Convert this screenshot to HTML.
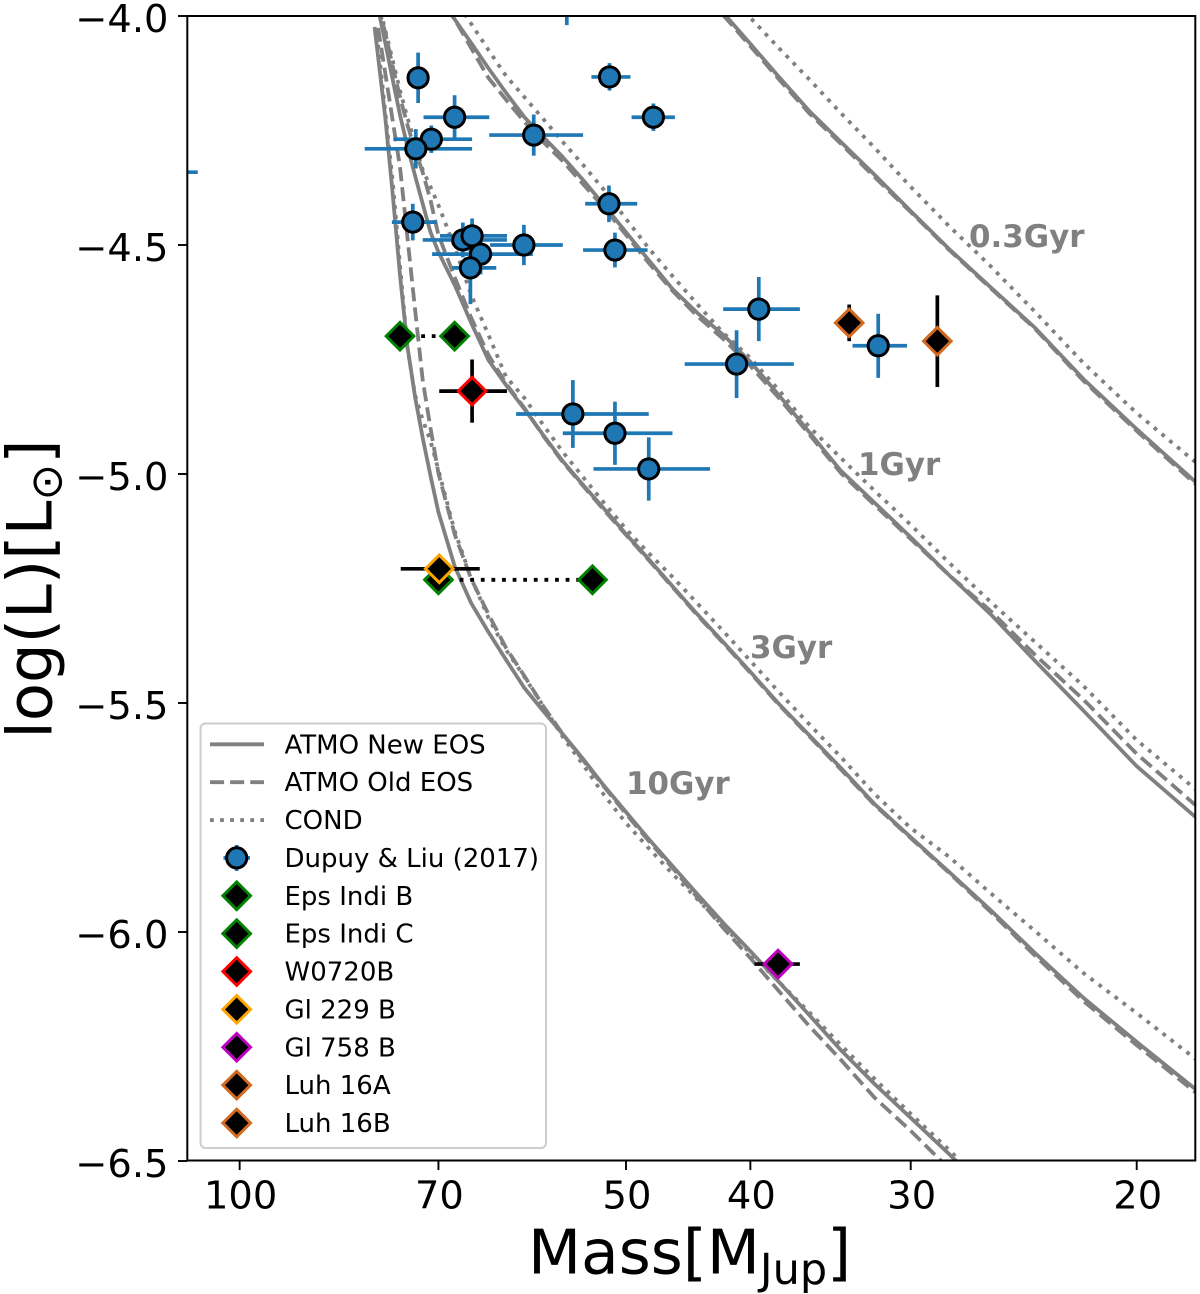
<!DOCTYPE html>
<html lang="en">
<head>
<meta charset="utf-8">
<title>Mass-luminosity diagram</title>
<style>
  html, body { margin: 0; padding: 0; background: #fff; }
  svg { display: block; font-family: "DejaVu Sans", "Liberation Sans", sans-serif; }
</style>
</head>
<body>
<svg id="chart" xmlns="http://www.w3.org/2000/svg" width="1200" height="1294" viewBox="0 0 1200 1294">
  <defs>
    <clipPath id="plot-clip"><rect x="187.3" y="16" width="1008" height="1144.5"></rect></clipPath>
  </defs>
  <rect x="0" y="0" width="1200" height="1294" fill="#ffffff"></rect>
  <g id="curves" clip-path="url(#plot-clip)"></g>
  <g id="points" clip-path="url(#plot-clip)"></g>
  <g id="annotations" fill="#808080" font-weight="bold" font-size="30.9">
    <text x="969" y="247">0.3Gyr</text>
    <text x="858" y="475">1Gyr</text>
    <text x="750" y="658">3Gyr</text>
    <text x="626" y="794">10Gyr</text>
  </g>
  <rect x="187.3" y="16" width="1008" height="1144.5" fill="none" stroke="#000" stroke-width="2"></rect>
  <g id="x-axis"></g>
  <g id="y-axis"></g>
  <text x="528" y="1273.5" font-size="61.5" fill="#000">Mass[M<tspan dy="10.5" font-size="43">Jup</tspan><tspan dy="-10.5">]</tspan></text>
  <text transform="translate(51.7 738.6) rotate(-90)" font-size="62.5" fill="#000">log(L)[L<tspan dy="10" font-size="43.75">⊙</tspan><tspan dy="-10">]</tspan></text>
  <g id="legend"></g>
</svg>
<script>
// ---- axis tick values ----
const xTickMasses = [100, 70, 50, 40, 30, 20];
const xTickLabels = ['100', '70', '50', '40', '30', '20'];
const yTickValues = [-4.0, -4.5, -5.0, -5.5, -6.0, -6.5];
const yTickLabels = ['\u22124.0', '\u22124.5', '\u22125.0', '\u22125.5', '\u22126.0', '\u22126.5'];

// ---- 0.3 Gyr isochrones ----
const mass03Gyr = [42,40,38,36,34,32,30,28,26,24,22,20,18];
const logL03GyrNew = [-3.993,-4.061,-4.133,-4.207,-4.275,-4.347,-4.426,-4.509,-4.592,-4.681,-4.793,-4.902,-5.017];
const logL03GyrOld = [-3.998,-4.066,-4.138,-4.212,-4.279,-4.352,-4.428,-4.511,-4.594,-4.683,-4.797,-4.906,-5.022];
const logL03GyrCond = [-3.943,-4.004,-4.070,-4.138,-4.212,-4.288,-4.373,-4.459,-4.546,-4.646,-4.758,-4.867,-4.974];

// ---- 1 Gyr isochrones ----
const mass1Gyr = [69,68,66,64,62,60,58,56,54,52,50,48,46,44,42,40,38,36,34,32,30,28,26,24,22,20,18];
const logL1GyrNew = [-3.983,-4.007,-4.059,-4.114,-4.168,-4.221,-4.264,-4.308,-4.358,-4.413,-4.472,-4.533,-4.596,-4.648,-4.696,-4.755,-4.828,-4.908,-4.993,-5.063,-5.138,-5.221,-5.306,-5.408,-5.517,-5.638,-5.749];
const logL1GyrOld = [-3.978,-4.007,-4.070,-4.135,-4.183,-4.231,-4.275,-4.317,-4.367,-4.419,-4.478,-4.539,-4.600,-4.655,-4.705,-4.764,-4.834,-4.913,-4.998,-5.068,-5.142,-5.221,-5.299,-5.395,-5.493,-5.611,-5.723];
const logL1GyrCond = [-3.943,-3.963,-4.017,-4.074,-4.131,-4.177,-4.225,-4.275,-4.325,-4.380,-4.443,-4.507,-4.568,-4.629,-4.692,-4.747,-4.817,-4.897,-4.965,-5.037,-5.111,-5.194,-5.279,-5.367,-5.463,-5.581,-5.688];

// ---- 3 Gyr isochrones ----
const mass3Gyr = [78,77,76,75,74,73,72,71,70,68,66,64,62,60,58,56,54,52,50,48,46,44,42,40,38,36,34,32,30,28,26,24,22,20,18];
const logL3GyrNew = [-3.983,-4.059,-4.138,-4.216,-4.286,-4.349,-4.410,-4.472,-4.515,-4.587,-4.670,-4.751,-4.806,-4.858,-4.915,-4.972,-5.024,-5.076,-5.131,-5.186,-5.245,-5.306,-5.367,-5.432,-5.502,-5.570,-5.642,-5.721,-5.793,-5.869,-5.952,-6.046,-6.144,-6.240,-6.343];
const logL3GyrOld = [-3.978,-4.037,-4.109,-4.177,-4.238,-4.293,-4.341,-4.402,-4.478,-4.570,-4.659,-4.740,-4.803,-4.856,-4.917,-4.974,-5.026,-5.079,-5.133,-5.188,-5.247,-5.308,-5.369,-5.434,-5.504,-5.572,-5.645,-5.723,-5.795,-5.871,-5.956,-6.052,-6.151,-6.247,-6.350];
const logL3GyrCond = [-3.969,-4.031,-4.096,-4.162,-4.223,-4.277,-4.336,-4.373,-4.413,-4.504,-4.609,-4.696,-4.788,-4.834,-4.893,-4.952,-5.007,-5.063,-5.120,-5.173,-5.225,-5.282,-5.343,-5.408,-5.476,-5.546,-5.618,-5.699,-5.773,-5.836,-5.915,-5.998,-6.090,-6.177,-6.277];

// ---- 10 Gyr isochrones ----
const mass10GyrNew = [78.5,77,76,75,74,73,72,71,70,68,66,64,62,60,58,56,54,52,50,48,46,44,42,40,38,36,34,32,30,28,27];
const logL10GyrNew = [-4.024,-4.222,-4.386,-4.566,-4.723,-4.832,-4.921,-5.004,-5.083,-5.201,-5.282,-5.345,-5.406,-5.467,-5.518,-5.568,-5.622,-5.681,-5.738,-5.797,-5.856,-5.917,-5.980,-6.042,-6.109,-6.181,-6.258,-6.332,-6.406,-6.485,-6.529];
const mass10GyrOld = [78,77,76,75,74,73,72,71,70,68,66,64,62,60,58,56,54,52,50,48,46,44,42,40,38,36,34,32,30,28];
const logL10GyrOld = [-4.026,-4.125,-4.227,-4.330,-4.485,-4.642,-4.795,-4.900,-4.998,-5.131,-5.229,-5.306,-5.380,-5.441,-5.507,-5.568,-5.625,-5.683,-5.742,-5.801,-5.860,-5.924,-5.991,-6.057,-6.129,-6.205,-6.279,-6.362,-6.434,-6.517];
const mass10GyrCond = [78,77,76,75,74,73,72,71,70,68,66,64,62,60,58,56,54,52,50,48,46,44,42,40,38,36,34,32,30,28,27];
const logL10GyrCond = [-4.063,-4.210,-4.358,-4.544,-4.725,-4.828,-4.882,-4.928,-4.991,-5.124,-5.227,-5.314,-5.384,-5.443,-5.507,-5.574,-5.635,-5.701,-5.762,-5.817,-5.873,-5.928,-5.987,-6.046,-6.109,-6.175,-6.247,-6.321,-6.397,-6.476,-6.520];

// ---- Dupuy & Liu (2017) ----
const dupuyMass = [72.6,51.5,47.6,68.0,59.0,70.9,72.9,51.55,73.3,67.0,65.9,64.9,66.1,60.05,51.0,39.4,41.0,31.8,55.0,51.0,48.0,55.6,130];
const dupuyMassMax = [73.2,53.2,49.5,71.9,63.9,75.9,79.9,53.8,76.1,72.0,69.8,70.8,68.3,63.8,54.0,42.0,45.0,33.3,60.9,56.0,53.0,58,150];
const dupuyMassMin = [72.0,49.6,45.8,63.9,54.0,65.9,65.9,49.0,70.2,61.9,61.9,59.1,63.1,56.0,48.1,36.6,37.0,30.2,48.0,46.0,43.0,53,107.8];
const dupuyLogL = [-4.135,-4.133,-4.221,-4.221,-4.260,-4.269,-4.290,-4.410,-4.450,-4.489,-4.480,-4.520,-4.550,-4.500,-4.511,-4.640,-4.760,-4.720,-4.869,-4.911,-4.989,-3.95,-4.341];
const dupuyLogLErr = [0.055,0.03,0.03,0.048,0.045,0.03,0.043,0.04,0.04,0.038,0.038,0.044,0.079,0.044,0.038,0.07,0.074,0.07,0.074,0.069,0.069,0.07,0.05];

// ---- Eps Indi (each with two mass estimates joined by a dotted line) ----
const epsIndiBMass = [75, 68];
const epsIndiBLogL = [-4.699, -4.699];
const epsIndiCMass = [70, 53.1];
const epsIndiCLogL = [-5.231, -5.231];

// ---- Benchmarks ----
const benchmarkNames = ['W0720B', 'Gl 229 B', 'Gl 758 B', 'Luh 16A', 'Luh 16B'];
const benchmarkMass = [65.9, 69.9, 38.06, 33.5, 28.6];
const benchmarkMassMax = [69.9, 74.9, 39.7, 33.5, 28.6];
const benchmarkMassMin = [61.9, 65.0, 36.6, 33.5, 28.6];
const benchmarkLogL = [-4.819, -5.207, -6.070, -4.670, -4.710];
const benchmarkLogLErr = [0.069, 0, 0, 0.04, 0.1];
const benchmarkEdge = ['#ff0000', '#ffa500', '#bf00bf', '#d2691e', '#d2691e'];

// ---- Legend labels ----
const legendLabels = ['ATMO New EOS', 'ATMO Old EOS', 'COND', 'Dupuy & Liu (2017)', 'Eps Indi B', 'Eps Indi C', 'W0720B', 'Gl 229 B', 'Gl 758 B', 'Luh 16A', 'Luh 16B'];

// ---- Scales ----
const SVGNS = 'http://www.w3.org/2000/svg';
function xScale(m) { return 1136.7 - 1283.4 * Math.log10(m / 20); }
function yScale(l) { return 16 + 458 * (-4 - l); }

function mk(tag, attrs, parent) {
  const el = document.createElementNS(SVGNS, tag);
  for (const k in attrs) el.setAttribute(k, attrs[k]);
  parent.appendChild(el);
  return el;
}

const GRAY = '#808080';
const LW = 3.8;
const STYLE = {
  new:  { dash: null },
  old:  { dash: (3.7 * LW) + ' ' + (1.6 * LW) },
  cond: { dash: (1.0 * LW) + ' ' + (1.65 * LW) }
};

const curvesG = document.getElementById('curves');
function drawCurve(name, kind, mass, logL) {
  const pts = mass.map(function (m, i) { return xScale(m).toFixed(1) + ',' + yScale(logL[i]).toFixed(1); }).join(' ');
  const attrs = { points: pts, fill: 'none', stroke: GRAY, 'stroke-width': LW, 'stroke-linejoin': 'round' };
  if (STYLE[kind].dash) attrs['stroke-dasharray'] = STYLE[kind].dash;
  const el = mk('polyline', attrs, curvesG);
  
  
}
drawCurve('curve-0.3gyr-atmo-new', 'new', mass03Gyr, logL03GyrNew);
drawCurve('curve-0.3gyr-atmo-old', 'old', mass03Gyr, logL03GyrOld);
drawCurve('curve-0.3gyr-cond', 'cond', mass03Gyr, logL03GyrCond);
drawCurve('curve-1gyr-atmo-new', 'new', mass1Gyr, logL1GyrNew);
drawCurve('curve-1gyr-atmo-old', 'old', mass1Gyr, logL1GyrOld);
drawCurve('curve-1gyr-cond', 'cond', mass1Gyr, logL1GyrCond);
drawCurve('curve-3gyr-atmo-new', 'new', mass3Gyr, logL3GyrNew);
drawCurve('curve-3gyr-atmo-old', 'old', mass3Gyr, logL3GyrOld);
drawCurve('curve-3gyr-cond', 'cond', mass3Gyr, logL3GyrCond);
drawCurve('curve-10gyr-atmo-new', 'new', mass10GyrNew, logL10GyrNew);
drawCurve('curve-10gyr-atmo-old', 'old', mass10GyrOld, logL10GyrOld);
drawCurve('curve-10gyr-cond', 'cond', mass10GyrCond, logL10GyrCond);

// ---- Markers ----
const BLUE = '#1f77b4';
function diamondPath(cx, cy) {
  const d = 13.8;
  return 'M' + cx + ' ' + (cy - d) + 'L' + (cx + d) + ' ' + cy + 'L' + cx + ' ' + (cy + d) + 'L' + (cx - d) + ' ' + cy + 'Z';
}
function errBar(parent, x1, y1, x2, y2, color) {
  return mk('line', { x1: x1, y1: y1, x2: x2, y2: y2, stroke: color, 'stroke-width': 3.7 }, parent);
}

const pointsG = document.getElementById('points');

dupuyMass.forEach(function (m, i) {
  const g = mk('g', {}, pointsG);
  
  
  const cx = xScale(m), cy = yScale(dupuyLogL[i]);
  errBar(g, xScale(dupuyMassMax[i]), cy, xScale(dupuyMassMin[i]), cy, BLUE);
  errBar(g, cx, yScale(dupuyLogL[i] + dupuyLogLErr[i]), cx, yScale(dupuyLogL[i] - dupuyLogLErr[i]), BLUE);
});
dupuyMass.forEach(function (m, i) {
  const c = mk('circle', { cx: xScale(m), cy: yScale(dupuyLogL[i]), r: 10.1, fill: BLUE, stroke: '#000', 'stroke-width': 3 }, pointsG);
  
  
});

function connector(name, mass, logL) {
  const attrs = { x1: xScale(mass[0]), y1: yScale(logL[0]), x2: xScale(mass[1]), y2: yScale(logL[1]), stroke: '#000', 'stroke-width': 3.8, 'stroke-dasharray': '3.8 6.8' };
  const el = mk('line', attrs, pointsG);
  
  
}
connector('eps-indi-b-connector', epsIndiBMass, epsIndiBLogL);
connector('eps-indi-c-connector', epsIndiCMass, epsIndiCLogL);

function diamond(name, parent, cx, cy, edge) {
  const el = mk('path', { d: diamondPath(cx, cy), fill: '#000', stroke: edge, 'stroke-width': 3 }, parent);
  
  
}
epsIndiBMass.forEach(function (m, i) { diamond('eps-indi-b-marker', pointsG, xScale(m), yScale(epsIndiBLogL[i]), '#008000'); });
epsIndiCMass.forEach(function (m, i) { diamond('eps-indi-c-marker', pointsG, xScale(m), yScale(epsIndiCLogL[i]), '#008000'); });

benchmarkMass.forEach(function (m, i) {
  const g = mk('g', {}, pointsG);
  
  
  const cx = xScale(m), cy = yScale(benchmarkLogL[i]);
  if (benchmarkMassMax[i] !== benchmarkMassMin[i]) errBar(g, xScale(benchmarkMassMax[i]), cy, xScale(benchmarkMassMin[i]), cy, '#000');
  if (benchmarkLogLErr[i] > 0) errBar(g, cx, yScale(benchmarkLogL[i] + benchmarkLogLErr[i]), cx, yScale(benchmarkLogL[i] - benchmarkLogLErr[i]), '#000');
  diamond('benchmark-marker', g, cx, cy, benchmarkEdge[i]);
});

// ---- Axes ----
const xAxisG = document.getElementById('x-axis');
xTickMasses.forEach(function (m, i) {
  const x = xScale(m);
  const t = mk('line', { x1: x, y1: 1160.5, x2: x, y2: 1170, stroke: '#000', 'stroke-width': 1.9 }, xAxisG);
  
  
  const l = mk('text', { x: x + 1, y: 1208.3, 'text-anchor': 'middle', 'font-size': 38.4, fill: '#000' }, xAxisG);
  l.textContent = xTickLabels[i];
  
  
});
const yAxisG = document.getElementById('y-axis');
yTickValues.forEach(function (v, i) {
  const y = yScale(v);
  const t = mk('line', { x1: 178, y1: y, x2: 187.3, y2: y, stroke: '#000', 'stroke-width': 1.9 }, yAxisG);
  
  
  const l = mk('text', { x: 168.5, y: y + 15.8, 'text-anchor': 'end', 'font-size': 38.4, fill: '#000' }, yAxisG);
  l.textContent = yTickLabels[i];
  
  
});

// ---- Legend ----
const legendG = document.getElementById('legend');
const box = mk('rect', { x: 200.5, y: 723.5, width: 345.5, height: 424.5, rx: 5, ry: 5, fill: '#ffffff', 'fill-opacity': 0.8, stroke: '#cccccc', 'stroke-width': 2 }, legendG);



const legendEdges = [null, null, null, null, '#008000', '#008000', '#ff0000', '#ffa500', '#bf00bf', '#d2691e', '#d2691e'];
const legendKinds = ['new', 'old', 'cond'];
legendLabels.forEach(function (label, i) {
  const cy = 744.3 + i * 37.87;
  const g = mk('g', {}, legendG);
  
  
  if (i < 3) {
    const attrs = { x1: 210, y1: cy, x2: 264, y2: cy, stroke: GRAY, 'stroke-width': LW };
    if (STYLE[legendKinds[i]].dash) attrs['stroke-dasharray'] = STYLE[legendKinds[i]].dash;
    mk('line', attrs, g);
  } else if (i === 3) {
    errBar(g, 223.5, cy, 249.9, cy, BLUE);
    errBar(g, 236.7, cy - 13, 236.7, cy + 13, BLUE);
    mk('circle', { cx: 236.7, cy: cy, r: 10.1, fill: BLUE, stroke: '#000', 'stroke-width': 3 }, g);
  } else {
    mk('path', { d: diamondPath(236.7, cy), fill: '#000', stroke: legendEdges[i], 'stroke-width': 3 }, g);
  }
  const t = mk('text', { x: 284.5, y: cy + 9, 'font-size': 26, fill: '#000' }, g);
  t.textContent = label;
});
</script>
</body>
</html>
